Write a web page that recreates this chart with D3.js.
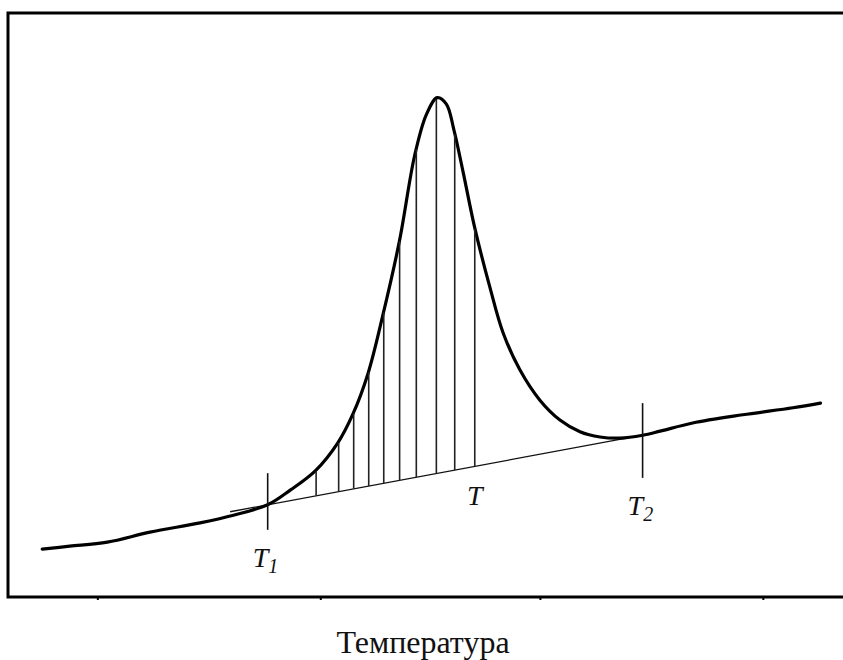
<!DOCTYPE html>
<html>

<head>
    <meta http-equiv="Content-Type" content="text/html; charset=UTF-8" />
    <script src="https://d3js.org/d3.v7.min.js"></script>
    <title>Температура</title>
    <style>
        body { margin: 0; background: #fff; }
        svg { display: block; }
        text { font-family: "Liberation Serif", "Times New Roman", Times, serif; }
    </style>
</head>

<body>
<svg></svg>

<script>
    let width = 843, height = 660;

    // Signal curve (temperature, signal), arbitrary units
    let curveT = [4.1, 7.4, 11.9, 17.0, 23.0, 27.0, 31.1, 33.8, 36.8, 39.5, 41.3, 43.1, 44.9, 46.9,
        48.7, 50.1, 51.4, 52.5, 53.4, 54.5, 55.9, 57.7, 59.3, 61.3, 63.7, 66.1, 68.5, 70.9, 73.3,
        76.0, 78.1, 82.0, 88.0, 94.0, 97.3];
    let curveS = [8.2, 8.7, 9.4, 11.1, 12.7, 14.0, 15.8, 18.3, 21.6, 26.4, 31.3, 38.2, 48.3, 61.1,
        75.6, 82.6, 85.5, 84.4, 80.0, 72.8, 63.2, 53.1, 45.2, 38.9, 33.7, 30.3, 28.3, 27.4, 27.2,
        27.7, 28.4, 29.8, 31.2, 32.4, 33.2];

    // Straight baseline under the peak
    let baseT = [26.6, 76.0];
    let baseS = [14.6, 27.7];

    // Hatch lines between baseline and curve
    let hatchT = [36.9, 39.6, 41.4, 43.2, 45.0, 46.9, 48.9, 51.3, 53.5, 55.9];

    // Marked temperatures T1 and T2, with the extent of their tick marks
    let markT = [31.1, 76.0];
    let markLow = [11.5, 20.4];
    let markHigh = [21.2, 33.2];
    let markSub = ["1", "2"];

    // Label "T" sits under the last hatch line
    let labelT = 55.9;

    // Small ticks on the frame's bottom edge
    let frameTicks = [10.7, 37.4, 63.7, 90.4];

    let xLabel = "Температура";

    let svg = d3.select("svg")
        .attr("width", width)
        .attr("height", height);

    let x = d3.scaleLinear().domain([0, 100]).range([8, 843]);
    let y = d3.scaleLinear().domain([0, 100]).range([597, 13]);

    // Frame (right side runs off the picture)
    svg.append("g")
        .attr("transform", "translate(0," + y(0) + ")")
        .call(d3.axisBottom(x).tickValues(frameTicks).tickSize(3).tickFormat(""))
        .call(g => g.select(".domain").remove())
        .selectAll("line")
        .attr("stroke", "#000")
        .attr("stroke-width", 2);

    svg.append("path")
        .attr("fill", "none")
        .attr("stroke", "#000")
        .attr("stroke-width", 3)
        .attr("d", "M" + (width + 5) + "," + y(100) + "H" + x(0) + "V" + y(0) + "H" + (width + 5));

    // Baseline
    let lineGen = d3.line().x(d => x(d[0])).y(d => y(d[1]));
    svg.append("path")
        .attr("fill", "none")
        .attr("stroke", "#111")
        .attr("stroke-width", 1.3)
        .attr("d", lineGen(d3.zip(baseT, baseS)));

    // Signal curve
    let curveGen = d3.line()
        .x(d => x(d[0]))
        .y(d => y(d[1]))
        .curve(d3.curveCatmullRom.alpha(0.5));

    let curvePath = svg.append("path")
        .attr("fill", "none")
        .attr("stroke", "#000")
        .attr("stroke-width", 3.2)
        .attr("stroke-linejoin", "round")
        .attr("stroke-linecap", "round")
        .attr("d", curveGen(d3.zip(curveT, curveS)));

    // find y of the drawn curve at pixel px
    let node = curvePath.node();
    let total = node.getTotalLength();
    function curveYAt(px) {
        let lo = 0, hi = total;
        for (let i = 0; i < 40; i++) {
            let mid = (lo + hi) / 2;
            if (node.getPointAtLength(mid).x < px) lo = mid; else hi = mid;
        }
        return node.getPointAtLength((lo + hi) / 2).y;
    }

    let baseAt = d3.scaleLinear().domain(baseT).range(baseS);

    svg.append("g")
        .selectAll("line")
        .data(hatchT)
        .enter()
        .append("line")
        .attr("x1", d => x(d))
        .attr("x2", d => x(d))
        .attr("y1", d => y(baseAt(d)))
        .attr("y2", d => curveYAt(x(d)) + 1)
        .attr("stroke", "#222")
        .attr("stroke-width", 1.6);

    // T1 / T2 ticks
    svg.append("g")
        .selectAll("line")
        .data(markT)
        .enter()
        .append("line")
        .attr("x1", d => x(d))
        .attr("x2", d => x(d))
        .attr("y1", (d, i) => y(markLow[i]))
        .attr("y2", (d, i) => y(markHigh[i]))
        .attr("stroke", "#111")
        .attr("stroke-width", 1.6);

    // labels
    let marks = svg.append("g")
        .selectAll("text")
        .data(markT)
        .enter()
        .append("text")
        .attr("x", d => x(d) - 15)
        .attr("y", (d, i) => y(markLow[i]) + 37)
        .style("font-style", "italic")
        .style("font-size", "28px")
        .attr("fill", "#111");
    marks.append("tspan").text("T");
    marks.append("tspan")
        .attr("dy", 6)
        .style("font-size", "20px")
        .text((d, i) => markSub[i]);

    svg.append("text")
        .attr("x", x(labelT))
        .attr("y", y(baseAt(labelT)) + 39)
        .attr("text-anchor", "middle")
        .style("font-style", "italic")
        .style("font-size", "28px")
        .attr("fill", "#111")
        .text("T");

    svg.append("text")
        .attr("x", 423)
        .attr("y", 653)
        .attr("text-anchor", "middle")
        .style("font-size", "32px")
        .attr("fill", "#111")
        .text(xLabel);
</script>
</body>
</html>
